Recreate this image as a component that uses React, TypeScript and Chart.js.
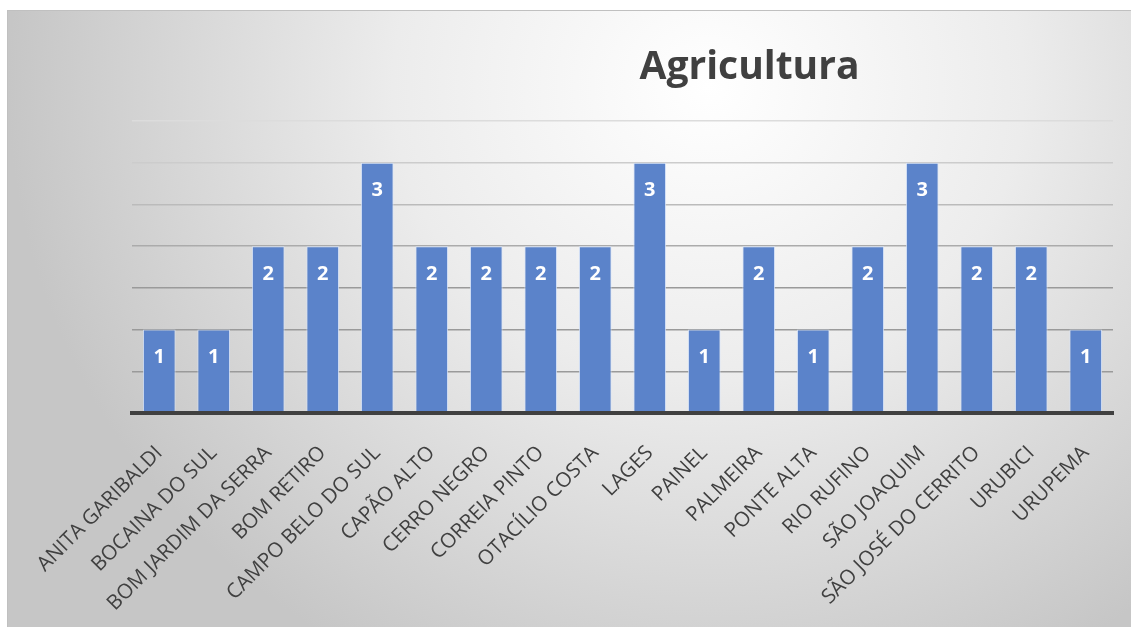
import React, { useEffect, useRef } from "react";
import { Chart, registerables } from "chart.js";

Chart.register(...registerables);

const TITLE = "Agricultura";

const categories = [
  "ANITA GARIBALDI",
  "BOCAINA DO SUL",
  "BOM JARDIM DA SERRA",
  "BOM RETIRO",
  "CAMPO BELO DO SUL",
  "CAPÃO ALTO",
  "CERRO NEGRO",
  "CORREIA PINTO",
  "OTACÍLIO COSTA",
  "LAGES",
  "PAINEL",
  "PALMEIRA",
  "PONTE ALTA",
  "RIO RUFINO",
  "SÃO JOAQUIM",
  "SÃO JOSÉ DO CERRITO",
  "URUBICI",
  "URUPEMA",
];

const values = [1, 1, 2, 2, 3, 2, 2, 2, 2, 3, 1, 2, 1, 2, 3, 2, 2, 1];

const Y_MIN = 0;
const Y_MAX = 3.5;
const Y_STEP = 0.5;

function gridColor(v: number): string {
  // darker near the base, lighter near the top
  const t = Math.max(0, Math.min(1, (v - 1.5) / 2));
  const c = Math.round(0x9a + (0xdc - 0x9a) * t);
  return `rgb(${c},${c},${c})`;
}

export default function App() {
  const ref = useRef<HTMLCanvasElement | null>(null);

  useEffect(() => {
    document.body.style.margin = "0";
    const canvas = ref.current;
    if (!canvas) return;

    const labelPlugin = {
      id: "barLabels",
      afterDatasetsDraw(chart: any) {
        const ctx = chart.ctx;
        const meta = chart.getDatasetMeta(0);
        ctx.save();
        ctx.font = 'bold 20px "Open Sans"';
        ctx.fillStyle = "#ffffff";
        ctx.textAlign = "center";
        ctx.textBaseline = "middle";
        meta.data.forEach((el: any, i: number) => {
          ctx.fillText(String(values[i]), el.x, el.y + 28);
        });
        ctx.restore();
      },
    };

    const titlePlugin = {
      id: "customTitle",
      afterDraw(chart: any) {
        const ctx = chart.ctx;
        const area = chart.chartArea;
        ctx.save();
        ctx.font = 'bold 39px "Open Sans"';
        ctx.fillStyle = "#404040";
        ctx.textAlign = "center";
        ctx.textBaseline = "alphabetic";
        ctx.fillText(TITLE, area.left + area.width * 0.6295, 79);
        ctx.restore();
      },
    };

    const chart = new Chart(canvas, {
      type: "bar",
      data: {
        labels: categories,
        datasets: [
          {
            data: values,
            backgroundColor: "#5b83ca",
            borderColor: "rgba(215,228,250,0.85)",
            borderWidth: 1,
            categoryPercentage: 1,
            barPercentage: 0.6,
          },
        ],
      },
      options: {
        animation: false,
        responsive: false,
        layout: { padding: { left: 132, right: 18, top: 121, bottom: 0 } },
        plugins: {
          legend: { display: false },
          title: { display: false },
          tooltip: { enabled: false },
        },
        scales: {
          x: {
            grid: { display: false },
            border: { display: true, color: "#404040", width: 4, z: 1 },
            ticks: {
              autoSkip: false,
              minRotation: 45,
              maxRotation: 45,
              color: "#404040",
              padding: 20,
              font: { family: "Open Sans", size: 20.5 },
            },
            afterFit: (s: any) => {
              s.height = 214;
            },
          },
          y: {
            min: Y_MIN,
            max: Y_MAX,
            ticks: { display: false, stepSize: Y_STEP },
            border: { display: false },
            grid: {
              drawTicks: false,
              lineWidth: 1.5,
              color: (c: any) => gridColor(c.tick ? c.tick.value : 0),
            },
            afterFit: (s: any) => {
              s.width = 0;
            },
          },
        },
      },
      plugins: [labelPlugin, titlePlugin],
    });

    return () => chart.destroy();
  }, []);

  return (
    <div style={{ position: "fixed", left: 0, top: 0, width: 1131, height: 627, background: "#ffffff", overflow: "hidden" }}>
      <div
        style={{
          position: "absolute",
          left: 7,
          top: 10,
          width: 1130,
          height: 625,
          borderTop: "1px solid #c0c0c0",
          borderLeft: "1px solid #c0c0c0",
          background:
            "radial-gradient(ellipse 62% 105% at 62% 12%, #ffffff 0%, #ececec 45%, #c6c6c6 100%)",
        }}
      />
      <canvas ref={ref} width={1131} height={627} style={{ position: "absolute", left: 0, top: 0 }} />
    </div>
  );
}
